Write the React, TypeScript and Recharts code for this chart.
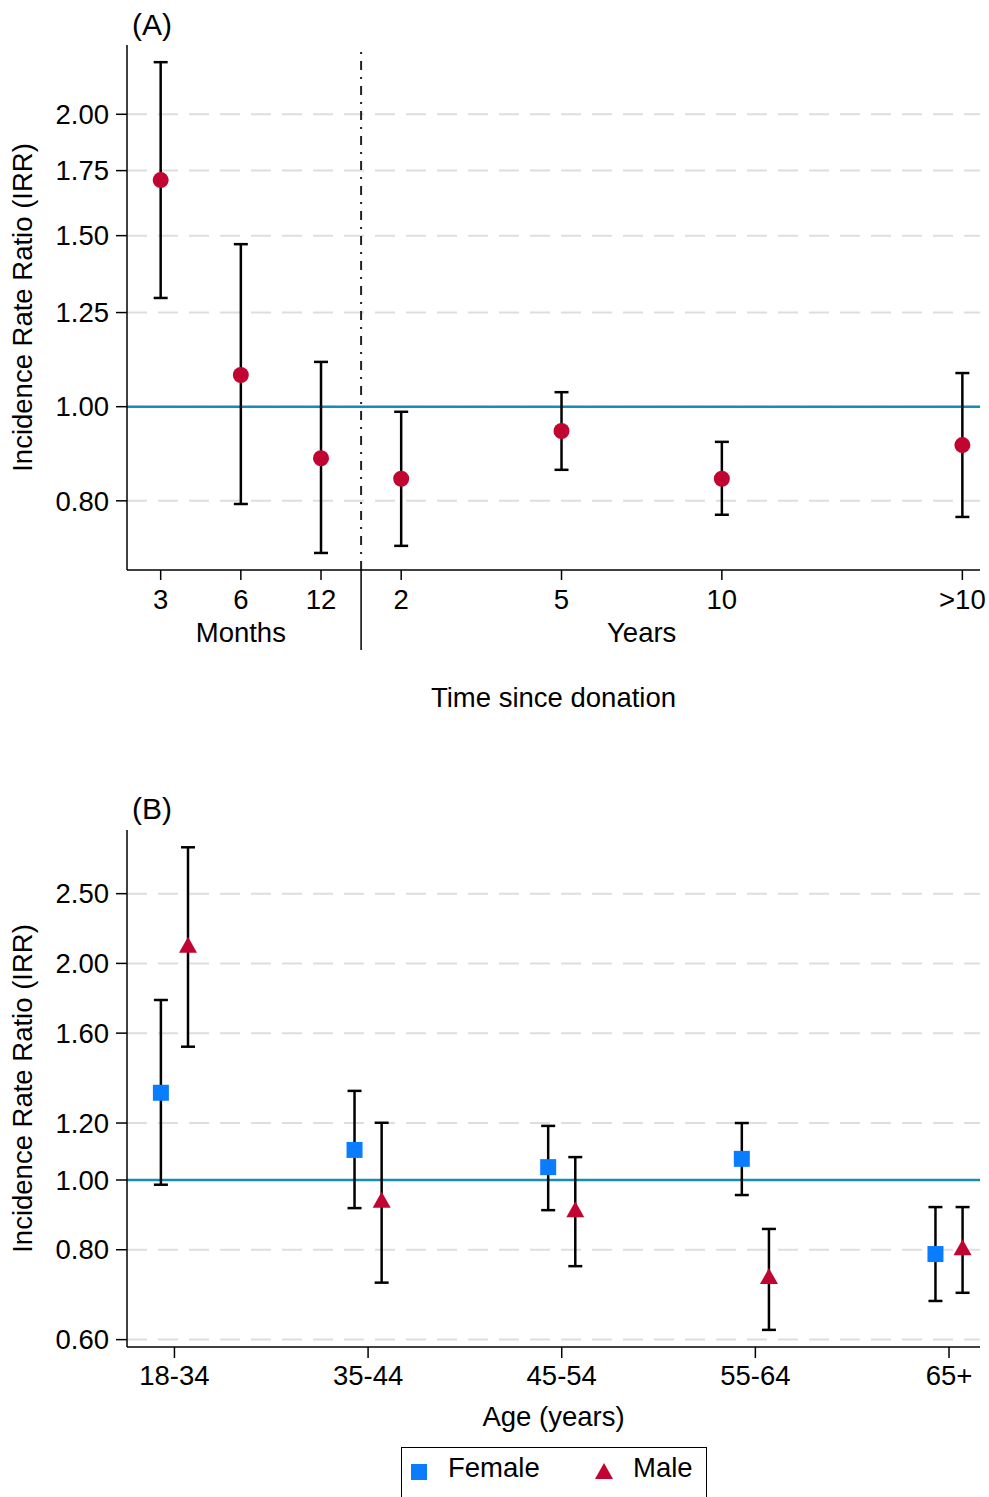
import React from 'react';
import {
  CartesianGrid,
  ComposedChart,
  ErrorBar,
  Legend,
  ReferenceLine,
  Scatter,
  XAxis,
  YAxis,
} from 'recharts';

const FONT = '"Liberation Sans", Arial, Helvetica, sans-serif';
const FS = 27.5;
const RED = '#c20432';
const BLUE = '#0a7dff';
const TEAL = '#168bbf';
const GRID = '#dedede';

// (A) time since donation
const periodLabels = ['3', '6', '12', '2', '5', '10', '>10'];
const periodPos = [0, 1, 2, 3, 5, 7, 10];
const periodIrr = [1.711, 1.078, 0.885, 0.843, 0.944, 0.843, 0.913];
const periodLow = [1.294, 0.794, 0.707, 0.719, 0.861, 0.774, 0.77];
const periodHigh = [2.263, 1.47, 1.112, 0.988, 1.035, 0.92, 1.083];
const ticksA = [0.8, 1, 1.25, 1.5, 1.75, 2];

// (B) age group by sex
const ageGroups = ['18-34', '35-44', '45-54', '55-64', '65+'];
const femaleIrr = [1.322, 1.101, 1.042, 1.07, 0.789];
const femaleLow = [0.985, 0.914, 0.908, 0.953, 0.679];
const femaleHigh = [1.779, 1.33, 1.189, 1.2, 0.917];
const maleIrr = [2.117, 0.936, 0.908, 0.733, 0.804];
const maleLow = [1.532, 0.72, 0.759, 0.619, 0.697];
const maleHigh = [2.9, 1.201, 1.076, 0.855, 0.917];
const ticksB = [0.6, 0.8, 1, 1.2, 1.6, 2, 2.5];

const SHIFT = 0.07; // female / male side by side within an age group

const dataA = periodPos.map((x, i) => ({
  x,
  y: periodIrr[i],
  err: [periodIrr[i] - periodLow[i], periodHigh[i] - periodIrr[i]],
}));

const dataFemale = ageGroups.map((_, i) => ({
  x: i - SHIFT,
  y: femaleIrr[i],
  err: [femaleIrr[i] - femaleLow[i], femaleHigh[i] - femaleIrr[i]],
}));

const dataMale = ageGroups.map((_, i) => ({
  x: i + SHIFT,
  y: maleIrr[i],
  err: [maleIrr[i] - maleLow[i], maleHigh[i] - maleIrr[i]],
}));

const textStyle = { fontFamily: FONT, fontSize: FS, fill: '#000' };

const Dot = (p: any) => <circle cx={p.cx} cy={p.cy} r={8} fill={RED} />;
const Square = (p: any) => <rect x={p.cx - 8} y={p.cy - 8} width={16} height={16} fill={BLUE} />;
const Triangle = (p: any) => (
  <polygon points={`${p.cx},${p.cy - 9} ${p.cx - 9},${p.cy + 7} ${p.cx + 9},${p.cy + 7}`} fill={RED} />
);

// ticks for panel A, plus the Months | Years split under the axis
const PeriodTick = ({ x, y, payload }: any) => {
  const v = payload.value;
  if (v === 2.5) {
    return <line x1={x} x2={x} y1={y} y2={y + 80} stroke="#000" strokeWidth={1.5} />;
  }
  if (v === 6) {
    return (
      <text x={x} y={y + 72} textAnchor="middle" style={textStyle}>
        Years
      </text>
    );
  }
  const idx = periodPos.indexOf(v);
  return (
    <g>
      <line x1={x} x2={x} y1={y} y2={y + 10} stroke="#000" strokeWidth={1.5} />
      <text x={x} y={y + 38.5} textAnchor="middle" style={textStyle}>
        {periodLabels[idx]}
      </text>
      {v === 1 && (
        <text x={x} y={y + 72} textAnchor="middle" style={textStyle}>
          Months
        </text>
      )}
    </g>
  );
};

const LegendBox = () => (
  <div
    style={{
      width: 306,
      height: 60,
      boxSizing: 'border-box',
      border: '1.5px solid #000',
      position: 'relative',
      fontFamily: FONT,
      fontSize: FS,
      color: '#000',
    }}
  >
    <svg width={306} height={60} style={{ position: 'absolute', left: 0, top: 0 }}>
      <rect x={9} y={16} width={16} height={16} fill={BLUE} />
      <polygon points="202,15 193,31 211,31" fill={RED} />
    </svg>
    <span style={{ position: 'absolute', left: 46, top: 5, lineHeight: '30px' }}>Female</span>
    <span style={{ position: 'absolute', left: 231, top: 5, lineHeight: '30px' }}>Male</span>
  </div>
);

const yLabel = (text: string) => ({
  value: text,
  angle: -90,
  position: 'insideLeft' as const,
  offset: 22,
  style: { ...textStyle, textAnchor: 'middle' as const },
});

const Title = ({ top, children }: { top: number; children: string }) => (
  <span
    style={{
      position: 'absolute',
      left: 132,
      top,
      fontFamily: FONT,
      fontSize: 30,
      lineHeight: '30px',
      color: '#000',
    }}
  >
    {children}
  </span>
);

export default function App() {
  return (
    <div
      style={{
        position: 'absolute',
        left: 0,
        top: 0,
        width: 989,
        height: 1497,
        overflow: 'hidden',
        background: '#fff',
        fontFamily: FONT,
      }}
    >
      <Title top={10}>(A)</Title>
      <div style={{ position: 'absolute', left: 0, top: 0 }}>
        <ComposedChart width={989} height={720} margin={{ top: 45, right: 9, bottom: 0, left: 0 }}>
          <CartesianGrid
            vertical={false}
            horizontalValues={ticksA}
            stroke={GRID}
            strokeWidth={2}
            strokeDasharray="20 11"
          />
          <XAxis
            dataKey="x"
            type="number"
            domain={[-0.42, 10.22]}
            ticks={[0, 1, 2, 2.5, 3, 5, 6, 7, 10]}
            interval={0}
            height={150}
            tickSize={0}
            tickMargin={0}
            tickLine={false}
            axisLine={{ stroke: '#000', strokeWidth: 1.5 }}
            tick={<PeriodTick />}
            label={{ value: 'Time since donation', position: 'insideBottom', offset: 13, style: textStyle }}
          />
          <YAxis
            type="number"
            scale="log"
            domain={[0.679, 2.357]}
            allowDataOverflow
            ticks={ticksA}
            interval={0}
            width={127}
            tickSize={11}
            tickMargin={7}
            tickFormatter={(v: number) => v.toFixed(2)}
            tick={textStyle}
            tickLine={{ stroke: '#000', strokeWidth: 1.5 }}
            axisLine={{ stroke: '#000', strokeWidth: 1.5 }}
            label={yLabel('Incidence Rate Ratio (IRR)')}
          />
          <ReferenceLine y={1} stroke={TEAL} strokeWidth={2.5} />
          <ReferenceLine x={2.5} stroke="#222" strokeWidth={2} strokeDasharray="9 7 2 7" />
          <Scatter data={dataA} dataKey="y" shape={Dot} isAnimationActive={false}>
            <ErrorBar dataKey="err" direction="y" width={7} stroke="#000" strokeWidth={2.5} isAnimationActive={false} />
          </Scatter>
        </ComposedChart>
      </div>

      <Title top={794}>(B)</Title>
      <div style={{ position: 'absolute', left: 0, top: 760 }}>
        <ComposedChart width={989} height={737} margin={{ top: 70, right: 9, bottom: 0, left: 0 }}>
          <CartesianGrid
            vertical={false}
            horizontalValues={ticksB}
            stroke={GRID}
            strokeWidth={2}
            strokeDasharray="20 11"
          />
          <XAxis
            dataKey="x"
            type="number"
            domain={[-0.245, 4.16]}
            ticks={[0, 1, 2, 3, 4]}
            interval={0}
            height={150}
            tickSize={11}
            tickMargin={7}
            tickFormatter={(v: number) => ageGroups[v]}
            tick={textStyle}
            tickLine={{ stroke: '#000', strokeWidth: 1.5 }}
            axisLine={{ stroke: '#000', strokeWidth: 1.5 }}
            label={{ value: 'Age (years)', position: 'insideBottom', offset: 71, style: textStyle }}
          />
          <YAxis
            type="number"
            scale="log"
            domain={[0.586, 3.065]}
            allowDataOverflow
            ticks={ticksB}
            interval={0}
            width={127}
            tickSize={11}
            tickMargin={7}
            tickFormatter={(v: number) => v.toFixed(2)}
            tick={textStyle}
            tickLine={{ stroke: '#000', strokeWidth: 1.5 }}
            axisLine={{ stroke: '#000', strokeWidth: 1.5 }}
            label={yLabel('Incidence Rate Ratio (IRR)')}
          />
          <ReferenceLine y={1} stroke={TEAL} strokeWidth={2.5} />
          <Scatter name="Female" data={dataFemale} dataKey="y" shape={Square} isAnimationActive={false}>
            <ErrorBar dataKey="err" direction="y" width={7} stroke="#000" strokeWidth={2.5} isAnimationActive={false} />
          </Scatter>
          <Scatter name="Male" data={dataMale} dataKey="y" shape={Triangle} isAnimationActive={false}>
            <ErrorBar dataKey="err" direction="y" width={7} stroke="#000" strokeWidth={2.5} isAnimationActive={false} />
          </Scatter>
          <Legend
            layout="vertical"
            align="center"
            verticalAlign="middle"
            content={() => <LegendBox />}
            wrapperStyle={{ top: 687, left: 401, width: 306, height: 60 }}
          />
        </ComposedChart>
      </div>
    </div>
  );
}
